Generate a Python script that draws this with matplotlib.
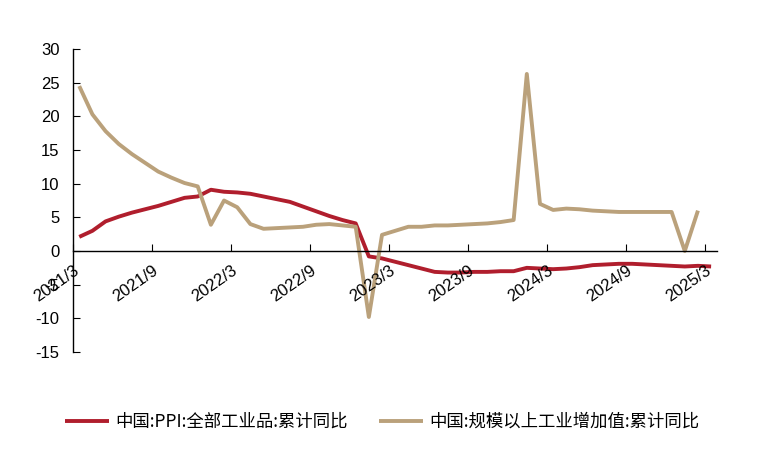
import numpy as np
import matplotlib
matplotlib.use("Agg")
import matplotlib.pyplot as plt

# monthly points 2021/3 .. 2025/3
months = ["2021/3", "2021/9", "2022/3", "2022/9", "2023/3",
          "2023/9", "2024/3", "2024/9", "2025/3"]

ppi = [2.1, 3.0, 4.4, 5.1, 5.7, 6.2, 6.7, 7.3, 7.9, 8.1,
       9.1, 8.8, 8.7, 8.5, 8.1, 7.7, 7.3, 6.6, 5.9, 5.2, 4.6, 4.1,
       -0.8, -1.1, -1.6, -2.1, -2.6, -3.1, -3.2, -3.2, -3.1, -3.1, -3.0, -3.0,
       -2.5, -2.6, -2.7, -2.6, -2.4, -2.1, -2.0, -1.9, -1.9, -2.0, -2.1, -2.2,
       -2.3, -2.2, -2.3]

iva = [24.5, 20.3, 17.8, 15.9, 14.4, 13.1, 11.8, 10.9, 10.1, 9.6,
       3.9, 7.5, 6.5, 4.0, 3.3, 3.4, 3.5, 3.6, 3.9, 4.0, 3.8, 3.6,
       -9.8, 2.4, 3.0, 3.6, 3.6, 3.8, 3.8, 3.9, 4.0, 4.1, 4.3, 4.6,
       26.3, 7.0, 6.1, 6.3, 6.2, 6.0, 5.9, 5.8, 5.8, 5.8, 5.8, 5.8,
       0.0, 6.0]

labels = ["中国:PPI:全部工业品:累计同比", "中国:规模以上工业增加值:累计同比"]

red = "#B01E2D"
gold = "#BAA17B"

plt.rcParams['font.family'] = ['Liberation Sans', 'DejaVu Sans']
plt.rcParams['axes.unicode_minus'] = False

fig = plt.figure(figsize=(7.59, 4.5), dpi=100)
ax = fig.add_axes([0.0966, 0.2178, 0.9447 - 0.0966, 0.891 - 0.2178])

x_ppi = np.arange(len(ppi)) + 0.45
x_iva = np.arange(len(iva)) + 0.45
l1, = ax.plot(x_ppi, ppi, color=red, lw=2.8, solid_capstyle='butt', zorder=1)
l2, = ax.plot(x_iva, iva, color=gold, lw=2.8, solid_capstyle='butt', zorder=1)

# spine moved first, it resets the ticks
for s in ['top', 'right']:
    ax.spines[s].set_visible(False)
ax.spines['bottom'].set_position(('data', 0))
ax.spines['left'].set_linewidth(1)
ax.spines['bottom'].set_linewidth(1)

ax.set_xlim(0, 48.9)
ax.set_ylim(-15, 30)
ax.set_yticks(range(-15, 31, 5))
ax.set_xticks(range(0, 49, 6))
ax.set_xticklabels(months, rotation=35, ha='right', va='top', rotation_mode='anchor')
ax.tick_params(axis='x', direction='in', length=5, labelsize=12, pad=8.5)
ax.tick_params(axis='y', direction='in', length=5, labelsize=12, pad=10)

fig.legend([l1, l2], labels, loc='center', bbox_to_anchor=(0.504, 0.062), ncol=2,
           frameon=False, handlelength=2.5, handletextpad=0.4, columnspacing=1.8,
           prop={'family': ['Noto Sans CJK SC', 'DejaVu Sans'], 'size': 12.5})

fig.savefig("out.png", dpi=100)
